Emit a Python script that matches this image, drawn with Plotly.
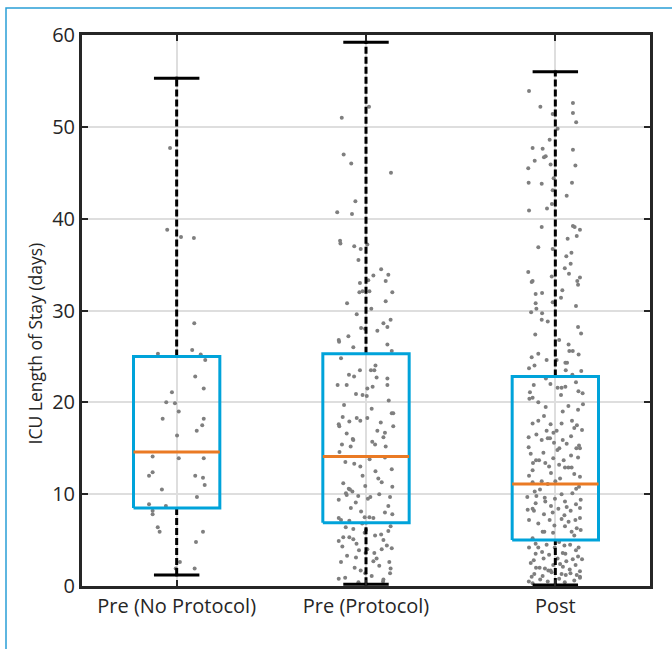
import plotly.graph_objects as go

# ---------------- data ----------------
categories = ["Pre (No Protocol)", "Pre (Protocol)", "Post"]
q1 = [8.5, 6.9, 5.0]
median = [14.6, 14.1, 11.1]
q3 = [25.0, 25.3, 22.8]
whisker_lo = [1.2, 0.2, 0.1]
whisker_hi = [55.3, 59.2, 56.0]
y_ticks = [0, 10, 20, 30, 40, 50, 60]
y_title = "ICU Length of Stay (days)"

# raw length-of-stay values (days) and their horizontal jitter (category units)
los_pre_no_protocol = [
    55.3, 47.7, 38.8, 38.0, 37.9, 28.6, 25.3, 25.7, 25.2, 24.6,
    22.8, 21.5, 21.1, 20.0, 19.9, 19.0, 18.2, 18.2, 17.5, 16.9,
    16.4, 14.1, 13.9, 13.9, 12.4, 12.0, 12.0, 11.8, 11.0, 10.5,
    9.7, 8.9, 8.7, 8.2, 7.8, 6.4, 5.9, 5.9, 4.8, 2.6,
    1.9, 1.9, 1.2,
]
jit_pre_no_protocol = [
    0.0, -0.035, -0.050, 0.023, 0.091, 0.093, -0.099, 0.082, 0.127, 0.151,
    0.098, 0.143, -0.025, -0.055, -0.009, 0.011, -0.074, 0.143, 0.135, 0.106,
    0.002, -0.127, 0.011, 0.143, -0.127, -0.146, 0.098, 0.139, 0.148, -0.078,
    0.107, -0.146, -0.057, -0.127, -0.127, -0.100, -0.090, 0.139, 0.102, 0.017,
    -0.005, 0.095, 0.0,
]

los_pre_protocol = [
    59.2, 52.2, 51.0, 47.0, 46.0, 45.0, 41.9, 40.7, 40.5, 37.6,
    37.3, 37.0, 36.7, 37.2, 33.8, 33.9, 33.2, 33.0, 33.3, 32.1,
    32.0, 32.1, 32.0, 31.0, 30.2, 29.6, 28.1, 28.0, 27.2, 26.8,
    26.6, 26.0, 24.8, 23.5, 23.5, 23.5, 22.8, 22.7, 21.9, 21.9,
    21.5, 21.7, 20.9, 20.8, 20.7, 19.7, 18.4, 17.9, 18.3, 18.3,
    17.6, 17.4, 16.6, 16.0, 15.2, 15.4, 15.7, 15.4, 15.9, 13.5,
    13.3, 13.8, 12.0, 11.7, 10.9, 10.6, 10.3, 9.9, 9.8, 9.4,
    9.1, 9.7, 10.1, 10.5, 8.1, 7.5, 7.5, 7.4, 7.4, 7.2,
    7.1, 6.4, 6.2, 6.1, 5.8, 5.5, 5.3, 5.3, 5.1, 4.9,
    4.3, 4.0, 3.9, 3.6, 3.6, 3.0, 3.1, 2.7, 2.6, 1.7,
    1.4, 0.8, 28.6, 28.2, 26.3, 25.6, 22.6, 21.9, 18.8, 18.8,
    17.8, 17.4, 16.7, 16.2, 15.2, 12.7, 11.3, 10.8, 9.7, 8.7,
    7.8, 6.0, 5.0, 4.1, 4.0, 2.6, 1.4, 0.7, 24.0, 23.0,
    20.2, 19.3, 18.0, 16.9, 14.6, 14.0, 13.0, 12.5, 11.2, 10.0,
    9.5, 8.5, 8.0, 6.8, 6.5, 5.6, 4.6, 4.4, 3.3, 2.2,
    2.0, 1.9, 1.1, 0.9, 0.5, 0.4, 27.8, 30.8, 34.5, 35.5,
    29.0, 0.2,
]
jit_pre_protocol = [
    0.0, 0.016, -0.128, -0.118, -0.078, 0.132, -0.056, -0.152, -0.074, -0.137,
    -0.135, -0.062, -0.028, 0.007, 0.039, 0.118, 0.104, -0.032, 0.012, -0.018,
    -0.035, 0.018, 0.139, 0.104, 0.028, -0.049, -0.026, -0.005, -0.093, -0.144,
    -0.142, -0.067, -0.132, -0.032, 0.026, 0.044, -0.063, 0.056, -0.150, -0.102,
    0.007, 0.035, -0.053, -0.018, 0.004, -0.116, -0.123, -0.088, -0.049, 0.007,
    -0.144, -0.141, -0.102, -0.070, -0.081, -0.127, 0.033, 0.048, -0.067, -0.109,
    -0.062, 0.019, -0.018, 0.065, -0.004, -0.091, -0.072, -0.102, -0.041, -0.144,
    -0.054, 0.023, -0.106, -0.085, -0.026, -0.007, 0.018, 0.039, -0.144, -0.132,
    -0.088, -0.107, -0.067, 0.0, -0.007, 0.048, -0.120, -0.088, -0.067, -0.144,
    -0.125, 0.007, -0.037, -0.002, 0.044, 0.056, -0.053, 0.039, -0.132, -0.028,
    -0.004, -0.144, 0.092, 0.113, 0.113, 0.136, 0.113, 0.113, 0.136, 0.144,
    0.078, 0.144, 0.100, 0.092, 0.104, 0.136, 0.083, 0.139, 0.127, 0.118,
    0.139, 0.118, 0.092, 0.136, 0.083, 0.123, 0.127, 0.092, 0.05, -0.09,
    0.12, 0.03, -0.03, 0.06, -0.14, 0.10, -0.03, 0.05, -0.12, 0.07,
    0.01, -0.08, 0.10, -0.02, 0.13, 0.08, -0.05, 0.11, -0.10, 0.07,
    -0.06, 0.13, 0.03, -0.11, 0.09, -0.04, 0.06, -0.10, 0.08, -0.04,
    0.13, 0.0,
]

los_post = [
    56.0, 53.9, 52.6, 52.2, 51.5, 51.4, 49.8, 47.7, 47.6, 47.5,
    46.8, 46.7, 46.3, 45.9, 45.8, 45.5, 44.4, 43.9, 43.8, 43.9,
    43.1, 41.6, 41.1, 40.9, 39.1, 39.2, 39.1, 38.8, 38.1, 37.8,
    36.7, 36.3, 35.9, 35.1, 34.2, 33.2, 33.1, 33.7, 34.0, 33.6,
    33.2, 32.8, 32.2, 31.8, 31.9, 30.9, 30.5, 30.8, 30.2, 29.8,
    29.7, 29.0, 28.8, 27.4, 27.5, 26.3, 25.6, 25.6, 25.2, 25.3,
    24.9, 24.6, 24.6, 24.3, 24.3, 23.7, 23.5, 23.4, 22.2, 22.0,
    21.9, 21.6, 21.6, 21.7, 21.2, 21.0, 21.1, 20.5, 20.4, 19.5,
    19.6, 19.8, 19.0, 18.0, 17.7, 18.0, 17.6, 17.7, 17.5, 16.9,
    16.9, 17.0, 16.5, 16.2, 15.9, 16.1, 16.1, 15.6, 16.3, 15.9,
    15.3, 15.0, 15.0, 14.8, 15.1, 15.0, 14.5, 14.2, 13.9, 13.7,
    13.7, 13.4, 13.4, 13.7, 13.0, 12.9, 12.9, 12.9, 12.2, 12.0,
    12.3, 11.7, 11.4, 11.4, 10.8, 11.3, 10.3, 10.5, 10.0, 10.1,
    9.6, 9.7, 9.5, 9.4, 9.0, 9.2, 8.9, 9.2, 8.4, 8.2,
    8.3, 8.7, 8.4, 8.0, 8.2, 8.5, 7.7, 7.3, 7.2, 7.2,
    7.4, 7.2, 6.6, 6.5, 6.3, 6.1, 5.9, 5.9, 5.8, 5.9,
    4.6, 4.5, 4.4, 4.5, 4.2, 4.2, 4.2, 4.2, 3.9, 3.6,
    3.5, 3.5, 3.4, 3.0, 3.0, 2.9, 2.9, 2.8, 2.7, 2.3,
    2.3, 2.4, 2.0, 2.0, 1.9, 1.7, 1.7, 1.8, 1.6, 1.0,
    1.3, 1.1, 1.3, 1.2, 1.2, 1.0, 0.3, 0.4, 0.5, 0.6,
    0.7, 0.8, 0.9, 0.5, 1.4, 1.5, 2.1, 2.5, 3.2, 3.7,
    4.8, 5.2, 5.5, 6.8, 7.0, 7.8, 8.6, 9.8, 10.6, 11.1,
    11.9, 12.6, 13.2, 14.0, 14.4, 15.5, 16.7, 17.2, 18.5, 19.2,
    20.0, 20.8, 22.6, 23.0, 24.0, 26.8, 28.2, 31.4, 34.6, 36.9,
    42.5, 48.6, 50.5, 0.1,
]
jit_post = [
    0.0, -0.139, 0.093, -0.079, 0.093, -0.014, 0.012, -0.120, -0.067, 0.093,
    -0.051, -0.060, -0.109, -0.025, 0.106, -0.143, -0.009, -0.141, -0.072, 0.088,
    -0.014, -0.018, -0.044, -0.139, -0.072, 0.093, 0.102, 0.130, 0.113, 0.065,
    -0.014, 0.085, 0.058, 0.081, -0.143, -0.120, -0.125, -0.019, 0.072, 0.130,
    0.116, 0.120, 0.037, -0.104, -0.070, -0.014, 0.109, -0.104, -0.100, -0.128,
    -0.070, -0.072, -0.040, -0.106, 0.136, 0.070, 0.074, 0.092, 0.123, -0.090,
    -0.125, -0.046, 0.007, 0.053, 0.062, -0.139, 0.055, 0.137, 0.109, -0.026,
    -0.114, 0.012, 0.033, 0.053, 0.122, 0.144, -0.134, -0.120, -0.137, -0.051,
    0.069, 0.146, 0.039, -0.090, -0.120, 0.088, -0.025, 0.033, 0.114, -0.046,
    0.007, 0.141, -0.100, -0.141, -0.072, -0.040, -0.028, -0.007, 0.083, 0.039,
    0.125, 0.111, 0.021, 0.011, -0.141, 0.130, -0.063, 0.083, -0.011, -0.102,
    -0.086, -0.118, -0.053, 0.044, -0.033, 0.086, 0.051, 0.069, 0.100, -0.139,
    -0.023, 0.025, -0.072, 0.0, 0.125, -0.120, -0.109, -0.081, 0.033, 0.090,
    -0.056, -0.148, -0.002, 0.134, -0.104, 0.051, 0.109, -0.053, -0.120, -0.113,
    -0.146, -0.023, 0.016, -0.014, 0.081, 0.130, 0.048, 0.033, -0.030, 0.106,
    0.130, -0.139, -0.005, 0.051, 0.113, 0.134, -0.067, -0.058, -0.012, 0.086,
    -0.104, -0.046, 0.048, 0.078, 0.123, -0.090, -0.139, -0.003, 0.109, 0.039,
    0.053, -0.104, -0.033, -0.062, 0.012, 0.092, 0.141, -0.114, 0.058, 0.107,
    -0.011, 0.025, -0.102, -0.083, -0.055, -0.037, -0.025, 0.076, 0.130, -0.125,
    -0.111, -0.067, 0.033, 0.055, 0.113, 0.130, -0.12, 0.05, -0.04, 0.10,
    -0.08, 0.02, 0.13, -0.14, 0.08, -0.02, 0.04, -0.13, 0.12, -0.07,
    0.02, -0.12, 0.10, -0.09, 0.07, -0.06, 0.06, -0.10, 0.11, -0.04,
    0.13, -0.12, 0.02, 0.12, -0.13, 0.06, -0.01, 0.10, -0.06, 0.12,
    -0.09, 0.03, -0.05, 0.09, -0.11, 0.02, 0.12, 0.03, 0.05, -0.09,
    0.06, -0.03, 0.11, 0.0,
]

# ---------------- styles ----------------
BOX_HW = 0.228      # half width of boxes (axis units)
CAP_HW = 0.12       # half width of whisker caps
BLUE = "#00A3DA"
ORANGE = "#EA7A24"
DOT = "#7F7F7F"
DARK = "#262626"
FONT = "Open Sans"

positions = [1, 2, 3]
groups = [
    (los_pre_no_protocol, jit_pre_no_protocol),
    (los_pre_protocol, jit_pre_protocol),
    (los_post, jit_post),
]

fig = go.Figure()

# jittered raw points
for pos, (vals, jit) in zip(positions, groups):
    n = min(len(vals), len(jit))
    fig.add_trace(go.Scatter(
        x=[pos + j for j in jit[:n]], y=vals[:n], mode="markers",
        marker=dict(color=DOT, size=4, line=dict(width=0)),
        showlegend=False, hoverinfo="y",
    ))

for i, pos in enumerate(positions):
    # whiskers (dashed)
    fig.add_trace(go.Scatter(
        x=[pos, pos], y=[q3[i], whisker_hi[i]], mode="lines",
        line=dict(color="black", width=3, dash="7px,3px"), showlegend=False, hoverinfo="skip"))
    fig.add_trace(go.Scatter(
        x=[pos, pos], y=[whisker_lo[i], q1[i]], mode="lines",
        line=dict(color="black", width=3, dash="7px,3px"), showlegend=False, hoverinfo="skip"))
    # caps
    for v in (whisker_hi[i], whisker_lo[i]):
        fig.add_trace(go.Scatter(
            x=[pos - CAP_HW, pos + CAP_HW], y=[v, v], mode="lines",
            line=dict(color="black", width=3), showlegend=False, hoverinfo="skip"))
    # box
    fig.add_trace(go.Scatter(
        x=[pos - BOX_HW, pos + BOX_HW, pos + BOX_HW, pos - BOX_HW, pos - BOX_HW],
        y=[q1[i], q1[i], q3[i], q3[i], q1[i]], mode="lines",
        line=dict(color=BLUE, width=3), showlegend=False, hoverinfo="skip"))
    # median
    fig.add_trace(go.Scatter(
        x=[pos - BOX_HW, pos + BOX_HW], y=[median[i], median[i]], mode="lines",
        line=dict(color=ORANGE, width=3), showlegend=False, hoverinfo="skip"))

fig.update_layout(
    width=672, height=649,
    margin=dict(l=82, r=22, t=35, b=63),
    plot_bgcolor="white", paper_bgcolor="white",
    font=dict(family=FONT, size=20, color=DARK),
    showlegend=False,
    xaxis=dict(
        range=[0.5, 3.5], tickmode="array", tickvals=positions, ticktext=categories,
        showgrid=True, gridcolor="#DEDEDE", gridwidth=2, zeroline=False,
        showline=True, linecolor=DARK, linewidth=3, mirror="ticks",
        ticks="inside", ticklen=6, tickwidth=2, tickcolor=DARK,
        tickfont=dict(family=FONT, size=20, color=DARK),
    ),
    yaxis=dict(
        range=[0, 60], tickmode="array", tickvals=y_ticks,
        showgrid=True, gridcolor="#DEDEDE", gridwidth=2, zeroline=False,
        showline=True, linecolor=DARK, linewidth=3, mirror="ticks",
        ticks="inside", ticklen=6, tickwidth=2, tickcolor=DARK,
        tickfont=dict(family=FONT, size=20, color=DARK),
    ),
    annotations=[dict(
        text=y_title, xref="paper", yref="paper", x=-0.083, y=0.44,
        xanchor="center", yanchor="middle", textangle=-90, showarrow=False,
        font=dict(family=FONT, size=17.5, color=DARK),
    )],
    shapes=[dict(
        type="rect", xref="paper", yref="paper",
        x0=-0.1338, x1=1.2, y0=-0.25, y1=1.049,
        line=dict(color="#2A9FD6", width=1.5), fillcolor="rgba(0,0,0,0)", layer="above",
    )],
)

fig.write_html("out.html")
